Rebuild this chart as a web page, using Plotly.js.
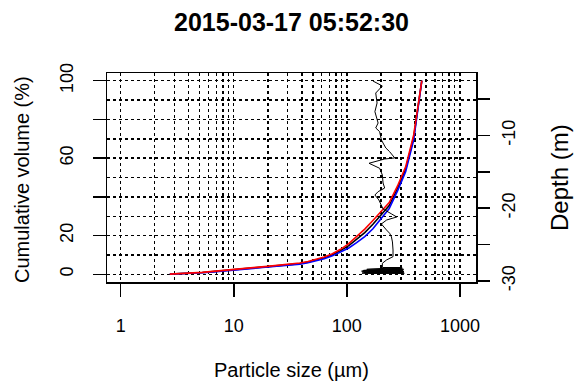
<!DOCTYPE html>
<html>
<head>
<meta charset="utf-8">
<script src="https://cdn.plot.ly/plotly-3.0.1.min.js"></script>
<style>html,body{margin:0;padding:0;background:#fff;}#chart{width:579px;height:391px;}</style>
</head>
<body>
<div id="chart"></div>
<script>
// Particle size bins (µm)
const sizes = [2.72, 3.2, 3.78, 4.46, 5.27, 6.21, 7.33, 8.65, 10.2, 12.1, 14.2, 16.8, 19.8, 23.4, 27.6, 32.5, 38.4, 45.3, 53.5, 63.1, 74.5, 87.9, 104, 122, 144, 170, 201, 237, 280, 331, 390, 460];
// Cumulative volume (%) for three profiles
const cumBlack = [0.05, 0.18, 0.35, 0.55, 0.9, 1.25, 1.65, 2.05, 2.4, 2.75, 3.1, 3.45, 3.8, 4.2, 4.6, 5.0, 5.5, 6.25, 7.2, 8.5, 10.1, 12.2, 14.8, 17.9, 21.5, 25.8, 30.5, 35.5, 44.3, 54.3, 70.8, 100];
const cumBlue = [0.05, 0.15, 0.3, 0.5, 0.8, 1.1, 1.5, 1.9, 2.2, 2.5, 2.8, 3.2, 3.55, 3.9, 4.3, 4.7, 5.2, 5.9, 6.8, 8.0, 9.5, 11.4, 13.6, 16.3, 19.5, 23.5, 28.5, 34.0, 43.0, 53.0, 69.5, 100];
const cumRed = [0.05, 0.2, 0.4, 0.6, 0.95, 1.35, 1.8, 2.2, 2.6, 3.0, 3.35, 3.7, 4.05, 4.45, 4.85, 5.3, 5.85, 6.6, 7.6, 8.9, 10.6, 12.9, 15.8, 19.3, 23.3, 27.8, 32.4, 37.0, 45.5, 55.5, 72.0, 100];
// Depth profile (drawn against the size axis and the depth axis)
const profX = [170, 206, 180, 185, 177, 189, 180, 195, 202, 221, 239, 265, 216, 157, 195, 206, 209, 216, 189, 177, 192, 202, 209, 249, 276, 225, 202, 224, 239, 248, 253, 256, 256, 224, 206, 206,
  300, 150, 310, 140, 318, 135, 315, 138, 320, 142, 318, 136, 322, 145, 310, 155, 305, 160, 314];
const profDepth = [-2.53, -3.21, -4.18, -5.55, -6.74, -8.30, -8.98, -9.49, -10.63, -11.73, -12.24, -13.10, -13.24, -13.83, -14.52, -15.44, -16.54, -17.23, -17.73, -18.19, -18.87, -19.56, -20.11, -20.80, -21.21, -21.62, -22.17, -22.99, -23.45, -23.96, -24.64, -25.74, -26.66, -27.12, -27.57, -28.15,
  -28.15, -28.4, -28.25, -28.55, -28.4, -28.65, -28.55, -28.75, -28.7, -28.85, -28.85, -28.92, -28.94, -28.9, -28.8, -28.6, -28.35, -28.94, -28.94];
// Axis ticks
const xTickVals = [1, 10, 100, 1000];
const xTickText = ['1', '10', '100', '1000'];
const xMinorVals = [2,3,4,5,6,7,8,9,20,30,40,50,60,70,80,90,200,300,400,500,600,700,800,900];
const yTickVals = [0, 20, 40, 60, 80, 100];
const yTickText = ['0', '20', '', '60', '', '100'];
const yMinorVals = [10, 30, 50, 70, 90];
const dTickVals = [-5, -10, -15, -20, -25, -30];
const dTickText = ['', '-10', '', '-20', '', '-30'];

const FONT = 'Liberation Sans, Arial, sans-serif';
const gridDash = '3px,3px';

const traces = [
  {x: profX, y: profDepth, yaxis: 'y2', type: 'scatter', mode: 'lines', line: {color: '#000', width: 1}, hoverinfo: 'skip'},
  {x: sizes, y: cumBlack, type: 'scatter', mode: 'lines', line: {color: '#000', width: 1.6}},
  {x: sizes, y: cumBlue, type: 'scatter', mode: 'lines', line: {color: '#0000ff', width: 1.6}},
  {x: sizes, y: cumRed, type: 'scatter', mode: 'lines', line: {color: '#ff0000', width: 1.6}}
];

const layout = {
  width: 579, height: 391,
  margin: {l: 107, r: 103, t: 73, b: 109, pad: 0},
  paper_bgcolor: '#fff', plot_bgcolor: '#fff',
  showlegend: false,
  font: {family: FONT, color: '#000'},
  title: {text: '<b>2015-03-17 05:52:30</b>', font: {family: FONT, size: 25, color: '#000'}, x: 0.5, xref: 'paper', y: 1 - 22/391, yref: 'container', yanchor: 'middle'},
  xaxis: {
    type: 'log', range: [-0.121, 3.142], autorange: false,
    tickmode: 'array', tickvals: xTickVals, ticktext: xTickText,
    ticks: 'outside', ticklen: 13, tickwidth: 1.5, tickcolor: '#000',
    ticklabelstandoff: 14,
    tickfont: {family: FONT, size: 18, color: '#000'},
    showline: true, mirror: true, linecolor: '#000', linewidth: 1.5,
    showgrid: true, gridcolor: '#000', gridwidth: 1.4, griddash: gridDash,
    minor: {tickmode: 'array', tickvals: xMinorVals, ticks: '', showgrid: true, gridcolor: '#000', gridwidth: 1.4, griddash: gridDash},
    zeroline: false, fixedrange: true
  },
  yaxis: {
    range: [-4, 104], autorange: false,
    tickmode: 'array', tickvals: yTickVals, ticktext: yTickText, tickangle: -90,
    ticks: 'outside', ticklen: 13, tickwidth: 1.5, tickcolor: '#000',
    ticklabelstandoff: 12,
    tickfont: {family: FONT, size: 18, color: '#000'},
    showline: true, mirror: true, linecolor: '#000', linewidth: 1.5,
    showgrid: true, gridcolor: '#000', gridwidth: 1.4, griddash: gridDash,
    minor: {tickmode: 'array', tickvals: yMinorVals, ticks: '', showgrid: true, gridcolor: '#000', gridwidth: 1.4, griddash: gridDash},
    zeroline: false, fixedrange: true
  },
  yaxis2: {
    overlaying: 'y', side: 'right', anchor: 'x',
    range: [-30.14, -1.43], autorange: false,
    tickmode: 'array', tickvals: dTickVals, ticktext: dTickText, tickangle: -90,
    ticks: 'outside', ticklen: 13, tickwidth: 1.5, tickcolor: '#000',
    ticklabelstandoff: 3,
    tickfont: {family: FONT, size: 18, color: '#000'},
    showline: false, showgrid: false, zeroline: false, fixedrange: true
  },
  annotations: [
    {text: 'Particle size (µm)', xref: 'paper', yref: 'paper', x: 0.5, y: (282 - 370) / 209, xanchor: 'center', yanchor: 'middle', showarrow: false, font: {family: FONT, size: 20, color: '#000'}},
    {text: 'Cumulative volume (%)', xref: 'paper', yref: 'paper', x: (22 - 107) / 369, y: (282 - 180) / 209, xanchor: 'center', yanchor: 'middle', textangle: -90, showarrow: false, font: {family: FONT, size: 20, color: '#000'}},
    {text: 'Depth (m)', xref: 'paper', yref: 'paper', x: (559 - 107) / 369, y: (282 - 178) / 209, xanchor: 'center', yanchor: 'middle', textangle: -90, showarrow: false, font: {family: FONT, size: 24, color: '#000'}}
  ]
};

Plotly.newPlot('chart', traces, layout, {staticPlot: true, displayModeBar: false});
</script>
</body>
</html>
